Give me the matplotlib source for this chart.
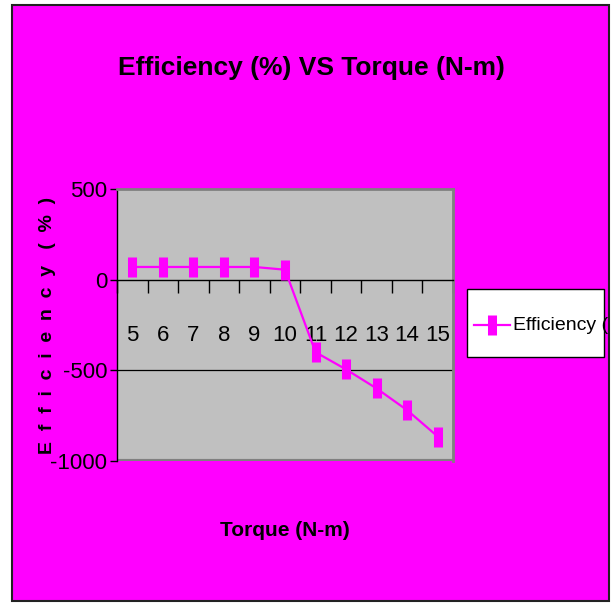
import matplotlib
matplotlib.use("Agg")
import matplotlib.pyplot as plt
from matplotlib.patches import Rectangle
from matplotlib.lines import Line2D
import numpy as np

# torque steps (N-m) and measured efficiency (%)
torque = [5, 6, 7, 8, 9, 10, 11, 12, 13, 14, 15]
efficiency = [70, 70, 70, 70, 70, 55, -400, -495, -600, -720, -865]
y_ticks = [500, 0, -500, -1000]

pink = "#FF00FF"
narrow = ["Liberation Sans Narrow", "Liberation Sans", "DejaVu Sans"]

fig = plt.figure(figsize=(6.16, 6.05), dpi=100)
fig.patch.set_facecolor("white")

# chart area background with dark border
fig.patches.append(Rectangle((12 / 616, 4 / 605), 597 / 616, 596 / 605,
                             transform=fig.transFigure, facecolor=pink,
                             edgecolor="#222222", linewidth=1.5, zorder=-5))

ax = fig.add_axes([117 / 616, 1 - 461 / 605, 336 / 616, 272 / 605])
ax.set_facecolor("#C0C0C0")

x = np.arange(len(torque))
ax.plot(x, efficiency, color=pink, linewidth=1.6, marker="|",
        markersize=14, markeredgewidth=6.5, markeredgecolor=pink, zorder=5,
        clip_on=False)

ax.set_xlim(-0.5, len(torque) - 0.5)
ax.set_ylim(-1000, 500)

for s in ["top", "right"]:
    ax.spines[s].set_color("#808080")
    ax.spines[s].set_linewidth(2)
ax.spines["left"].set_color("black")
ax.spines["left"].set_linewidth(1)
ax.spines["bottom"].set_position(("data", 0))
ax.spines["bottom"].set_color("black")
ax.spines["bottom"].set_linewidth(1)
ax.axhline(-1000, color="#808080", linewidth=3, zorder=1)
ax.axhline(-500, color="black", linewidth=0.9, zorder=1)

# category labels centred, tick marks on the boundaries
ax.set_xticks(x)
ax.set_xticklabels([str(t) for t in torque], family=narrow, fontsize=16)
ax.tick_params(axis="x", which="major", length=0, pad=33)
ax.set_xticks(np.arange(len(torque) + 1) - 0.5, minor=True)
ax.tick_params(axis="x", which="minor", length=9, width=1, direction="out",
               color="black")

ax.set_yticks(y_ticks)
ax.set_yticklabels([str(v) for v in y_ticks], family=narrow, fontsize=16)
ax.tick_params(axis="y", length=5, width=1, direction="out", pad=2)

fig.text(311 / 616, 1 - 68 / 605, "Efficiency (%) VS Torque (N-m)",
         ha="center", va="center", family=narrow, fontsize=19,
         fontweight="bold")
fig.text(285 / 616, 1 - 530 / 605, "Torque (N-m)", ha="center",
         va="center", family=narrow, fontsize=15, fontweight="bold")
fig.text(48 / 616, 1 - 325 / 605, "E  f  f  i  c  i  e  n  c  y   (  %  )",
         ha="center", va="center", rotation=90, family=narrow,
         fontsize=14, fontweight="bold")

# legend box
fig.patches.append(Rectangle((467 / 616, 1 - 357 / 605), 137 / 616,
                             68 / 605, transform=fig.transFigure,
                             facecolor="white", edgecolor="black",
                             linewidth=1, zorder=2))
fig.lines.append(Line2D([474 / 616, 510 / 616], [1 - 325 / 605] * 2,
                        transform=fig.transFigure, color=pink,
                        linewidth=1.6, zorder=3))
fig.lines.append(Line2D([492 / 616], [1 - 325 / 605],
                        transform=fig.transFigure, color=pink, marker="|",
                        markersize=14, markeredgewidth=6.5, zorder=3))
fig.text(513 / 616, 1 - 325 / 605, "Efficiency (", ha="left", va="center",
         family=narrow, fontsize=14, zorder=4)

fig.savefig("out.png", dpi=100, facecolor=fig.get_facecolor())
